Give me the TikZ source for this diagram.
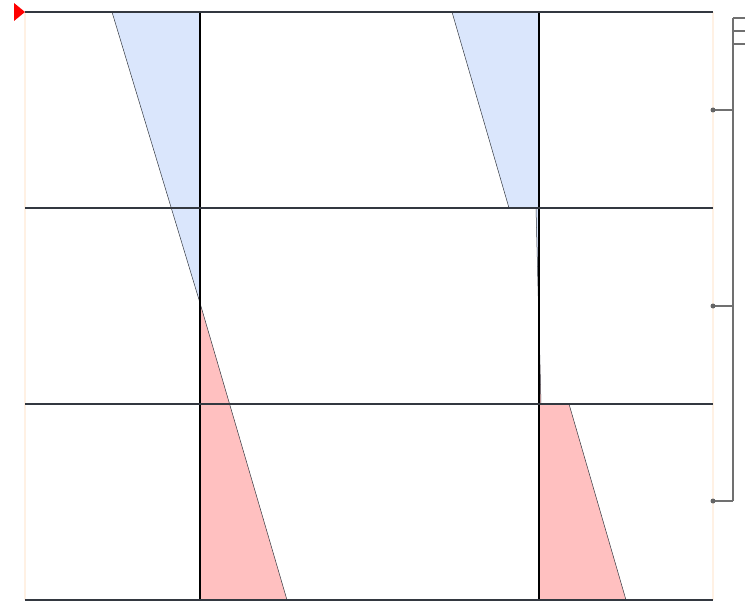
\documentclass[tikz,border=0pt]{standalone}
\usepackage{tikz}
\usetikzlibrary{arrows.meta, calc, positioning}
\definecolor{bluefill}{HTML}{DAE6FC}
\definecolor{redfill}{HTML}{FFC0C0}
\definecolor{gridline}{HTML}{333840}
\definecolor{edgeline}{HTML}{FFF1E4}
\definecolor{bracket}{HTML}{707070}
\tikzset{
    rowline/.style={line width=2pt, gridline},
    colline/.style={line width=1.4pt, black},
    wedge/.style={draw=gridline, line width=0.5pt},
    edge/.style={line width=1.2pt, edgeline},
    brace/.style={line width=1.2pt, bracket},
}

\begin{document}
\begin{tikzpicture}[x=1pt, y=-1pt]
            \useasboundingbox (0,0) rectangle (745,607);
            % faint side edges
            \draw[edge] (25,12) -- (25,600);
            \draw[edge] (713,12) -- (713,600);
            % wedges
            \fill[bluefill] (112,12) -- (200,12) -- (200,303) -- cycle;
            \fill[redfill] (200,303) -- (287,600) -- (200,600) -- cycle;
            \draw[wedge] (112,12) -- (200,303) -- (287,600);
            \fill[bluefill] (452,12) -- (539,12) -- (539,208) -- (509,208) -- cycle;
            \draw[wedge] (452,12) -- (509,208);
            \fill[bluefill] (536,208) -- (539,208) -- (539,326) -- cycle;
            \fill[redfill] (539,326) -- (541,404) -- (539,404) -- cycle;
            \draw[wedge] (536,208) -- (541,404);
            \fill[redfill] (539,404) -- (569,404) -- (626,600) -- (539,600) -- cycle;
            \draw[wedge] (569,404) -- (626,600);
            % columns and rows
            \draw[colline] (200,12) -- (200,600);
            \draw[colline] (539,12) -- (539,600);
            \foreach \y in {12,208,404,600}
                \draw[rowline] (25,\y) -- (713,\y);
            % marker
            \fill[red] (14,3) -- (25,12) -- (14,21) -- cycle;
            % bracket on the right
            \draw[brace] (733,18) -- (733,501);
            \foreach \y in {18,31,44}
                \draw[brace] (733,\y) -- (745,\y);
            \foreach \y in {110,306,501} {
                \draw[brace] (713,\y) -- (733,\y);
                \fill[bracket!90!black] (713,\y) circle (2.5pt);
            }
        \end{tikzpicture}
\end{document}
